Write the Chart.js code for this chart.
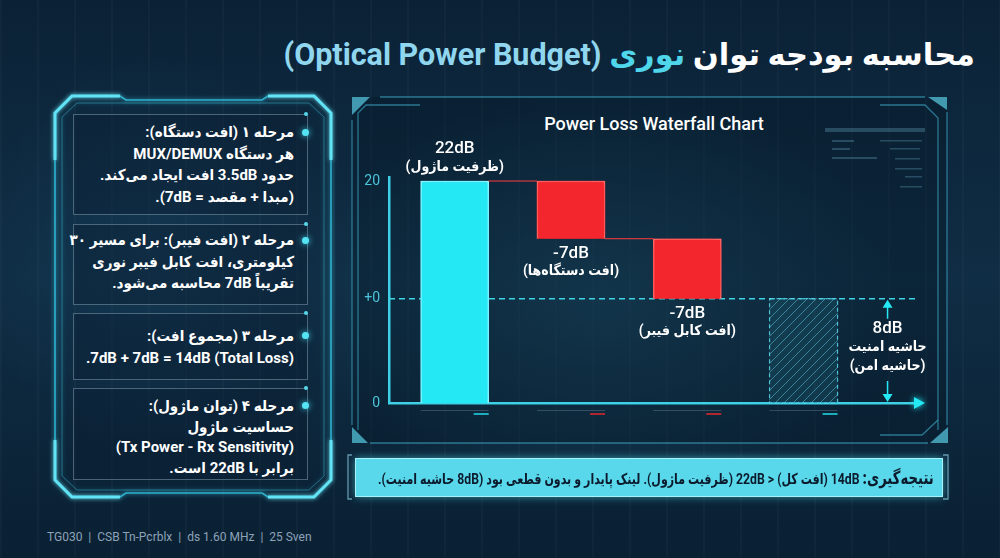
<!DOCTYPE html>
<html lang="fa">
<head>
<meta charset="UTF-8">
<title>Optical Power Budget</title>
<script src="https://cdn.jsdelivr.net/npm/chart.js@4.4.1/dist/chart.umd.min.js"></script>
<style>
  html, body { margin: 0; padding: 0; }
  body {
    width: 1000px; height: 558px; overflow: hidden; position: relative;
    font-family: Roboto, 'DejaVu Sans Condensed', 'DejaVu Sans', sans-serif; color: #fff;
    background:
      radial-gradient(ellipse 430px 300px at 600px 300px, rgba(45,115,145,0.35), transparent 70%),
      radial-gradient(ellipse 260px 280px at 150px 250px, rgba(30,90,125,0.25), transparent 70%),
      repeating-linear-gradient(90deg, rgba(255,255,255,0.025) 0 2px, transparent 2px 37px),
      linear-gradient(180deg, #0b2236 0%, #0f2d44 50%, #0a2033 100%);
  }
  .abs { position: absolute; }
  #title {
    right: 25px; top: 37px; direction: rtl; white-space: nowrap;
    font-size: 30.5px; font-weight: bold; font-family: Roboto, 'DejaVu Sans', sans-serif;
  }
  #title .cy { color: #4fd6ea; }
  #title .en { color: #8fd6ee; }
  .box {
    left: 73px; width: 235px; box-sizing: border-box;
    border: 1px solid rgba(150,180,200,0.45);
    background: rgba(10,30,50,0.45);
    direction: rtl; text-align: right; padding-right: 13px;
    font-size: 15px; font-weight: bold; line-height: 21.5px; white-space: nowrap;
  }
  .dot { width: 7px; height: 7px; border-radius: 50%; background: #55e4f4; box-shadow: 0 0 6px #40d8f0; }
  .pin { width: 4px; height: 4px; border-radius: 50%; background: #55d8ea; }
  #chartTitle { left: 454px; width: 400px; top: 113px; text-align: center; font-size: 18px; font-weight: 500; }
  #chartBox { left: 340px; top: 100px; width: 620px; height: 340px; }
  #result {
    left: 355px; top: 458px; width: 588px; height: 39px; box-sizing: border-box;
    background: #58d8ea; border: 1px solid #a8f2fa; box-shadow: 0 0 8px rgba(80,220,240,0.6);
    direction: rtl; text-align: right; padding-right: 8px; line-height: 37px;
    color: #0b1a2c; font-size: 15px; font-weight: bold; white-space: nowrap;
  }
  #resultText { display: inline-block; transform-origin: right center; }
  #result b { font-size: 18px; }
  #footer { left: 47px; top: 530px; font-size: 12px; color: #8da3b8; white-space: pre; }
</style>
</head>
<body>

<svg class="abs" style="left:0;top:0" width="1000" height="558">
  <defs>
    <filter id="glow" x="-20%" y="-20%" width="140%" height="140%">
      <feGaussianBlur stdDeviation="2" result="b"/>
      <feMerge><feMergeNode in="b"/><feMergeNode in="SourceGraphic"/></feMerge>
    </filter>
  </defs>
  <!-- left panel frame -->
  <g fill="none" filter="url(#glow)">
    <path d="M55,113 L72,96 L120,96 L126,100 L262,100 L268,96 L314,96 L331,113 L331,480 L314,497 L268,497 L262,493 L126,493 L120,497 L72,497 L55,480 Z" stroke="#35c9e6" stroke-width="1.6" opacity="0.8"/>
    <path d="M62,117 L77,103 L309,103 L324,117 L324,476 L309,490 L77,490 L62,476 Z" stroke="rgba(60,190,220,0.45)" stroke-width="1"/>
    <path d="M55,160 L55,113 L72,96 L120,96" stroke="#62e4f6" stroke-width="3"/>
    <path d="M268,96 L314,96 L331,113 L331,160" stroke="#62e4f6" stroke-width="3"/>
    <path d="M55,440 L55,480 L72,497 L120,497" stroke="#62e4f6" stroke-width="3"/>
    <path d="M268,497 L314,497 L331,480 L331,440" stroke="#62e4f6" stroke-width="3"/>
  </g>
  <!-- chart panel frame -->
  <rect x="352" y="97" width="595" height="346" fill="rgba(6,22,36,0.35)"/>
  <g fill="none" stroke="rgba(70,190,220,0.55)" stroke-width="1.3">
    <path d="M380,97 L925,97"/>
    <path d="M420,105 L366,105 L358,113 L358,430"/>
    <path d="M352,120 L352,425"/>
    <path d="M880,105 L925,105 L938,118 L938,430"/>
    <path d="M947,112 L947,425"/>
    <path d="M370,443 L928,443"/>
    <path d="M880,435 L922,435 L938,420"/>
    <path d="M352,455 L348,455 L348,499 L352,499" stroke="rgba(140,200,220,0.7)"/>
    <path d="M943,455 L948,455 L948,499 L943,499" stroke="rgba(140,200,220,0.7)"/>
  </g>
  <g fill="rgba(90,205,230,0.7)">
    <path d="M352,97 L370,97 L352,115 Z"/>
    <path d="M928,97 L947,97 L947,110 Z"/>
    <path d="M948,427 L948,443 L930,443 Z"/>
    <path d="M352,427 L352,443 L368,443 Z"/>
  </g>
  <!-- faint data block top right -->
  <g fill="rgba(120,190,215,0.28)">
    <rect x="825" y="128" width="100" height="4"/>
    <rect x="832" y="140" width="22" height="2"/><rect x="880" y="140" width="42" height="1.5"/>
    <rect x="832" y="148" width="18" height="2"/><rect x="890" y="148" width="30" height="1.5"/>
    <rect x="832" y="157" width="45" height="2"/><rect x="895" y="158" width="25" height="1.5"/>
    <rect x="895" y="168" width="27" height="1.5"/><rect x="905" y="176" width="17" height="1.5"/>
    <rect x="900" y="186" width="22" height="1.5"/>
  </g>
</svg>

<div id="title" class="abs"><span>محاسبه بودجه توان </span><span class="cy">نوری</span> <span class="en">(Optical Power Budget)</span></div>

<div class="abs box" style="top:114px;height:101px;padding-top:7px">
  <div>مرحله ۱ (افت دستگاه):</div>
  <div>هر دستگاه MUX/DEMUX</div>
  <div>حدود 3.5dB افت ایجاد می‌کند.</div>
  <div>(مبدا + مقصد = 7dB).</div>
</div>
<div class="abs box" style="top:224px;height:81px;padding-top:5px">
  <div>مرحله ۲ (افت فیبر): برای مسیر ۳۰</div>
  <div>کیلومتری، افت کابل فیبر نوری</div>
  <div>تقریباً 7dB محاسبه می‌شود.</div>
</div>
<div class="abs box" style="top:313px;height:67px;padding-top:11px;line-height:22px">
  <div>مرحله ۳ (مجموع افت):</div>
  <div>7dB + 7dB = 14dB (Total Loss).</div>
</div>
<div class="abs box" style="top:388px;height:92px;padding-top:7px;line-height:20.7px">
  <div>مرحله ۴ (توان ماژول):</div>
  <div>حساسیت ماژول</div>
  <div>(Tx Power - Rx Sensitivity)</div>
  <div>برابر با 22dB است.</div>
</div>
<div class="abs dot" style="left:302px;top:129px"></div>
<div class="abs dot" style="left:302px;top:237px"></div>
<div class="abs dot" style="left:302px;top:332px"></div>
<div class="abs dot" style="left:302px;top:402px"></div>
<div class="abs pin" style="left:304px;top:112px"></div>
<div class="abs pin" style="left:304px;top:222px"></div>
<div class="abs pin" style="left:304px;top:311px"></div>
<div class="abs pin" style="left:304px;top:386px"></div>

<div id="chartTitle" class="abs">Power Loss Waterfall Chart</div>
<div id="chartBox" class="abs"><canvas id="waterfall" width="620" height="340"></canvas></div>

<div id="result" class="abs"><span id="resultText"><b>نتیجه‌گیری:</b> 14dB (افت کل) &lt; 22dB (ظرفیت ماژول). لینک پایدار و بدون قطعی بود (8dB حاشیه امنیت).</span></div>

<div id="footer" class="abs">TG030  |  CSB Tn-Pcrblx  |  ds 1.60 MHz  |  25 Sven</div>

<script>
  // waterfall steps (values as drawn in the picture, not to scale of the labels)
  const stepNames = ['ظرفیت ماژول', 'افت دستگاه‌ها', 'افت کابل فیبر', 'حاشیه امن'];
  const stepPos = [1, 2, 3, 4];
  const stepLow = [0, 14.8, 9.4, 0];
  const stepHigh = [20, 20, 14.8, 9.4];
  const valueText = ['22dB', '-7dB', '-7dB', '8dB'];
  const noteText = ['(ظرفیت ماژول)', '(افت دستگاه‌ها)', '(افت کابل فیبر)', '(حاشیه امن)'];
  const marginTitle = 'حاشیه امنیت';
  const zeroLevel = 9.4;
  const yTicks = [0, 9.4, 20];
  const yTickText = ['0', '+0', '20'];
  const xMin = 0.435, xMax = 4.967;

  const CYAN = '#24e8f4', RED = '#f2262c';
  const LABEL_FAMILY = 'Roboto, "DejaVu Sans Condensed", "DejaVu Sans"';

  // squeeze the conclusion line into the bar like the original
  const rt = document.getElementById('resultText');
  if (rt.offsetWidth > 556) rt.style.transform = 'scaleX(' + (556 / rt.offsetWidth) + ')';

  function makeHatch() {
    const c = document.createElement('canvas');
    c.width = c.height = 9;
    const g = c.getContext('2d');
    g.fillStyle = 'rgba(30,95,115,0.35)';
    g.fillRect(0, 0, 9, 9);
    g.strokeStyle = 'rgba(100,205,225,0.5)';
    g.lineWidth = 1;
    g.beginPath();
    g.moveTo(0, 9); g.lineTo(9, 0);
    g.moveTo(-4.5, 4.5); g.lineTo(4.5, -4.5);
    g.moveTo(4.5, 13.5); g.lineTo(13.5, 4.5);
    g.stroke();
    return g.createPattern(c, 'repeat');
  }

  const pt = i => ({ x: stepPos[i], y: [stepLow[i], stepHigh[i]] });

  const glowPlugin = {
    id: 'glow',
    beforeDatasetDraw(chart, args) {
      const ds = chart.data.datasets[args.index];
      if (ds.glow) {
        chart.ctx.save();
        chart.ctx.shadowColor = ds.glow;
        chart.ctx.shadowBlur = 14;
      }
    },
    afterDatasetDraw(chart, args) {
      if (chart.data.datasets[args.index].glow) chart.ctx.restore();
    }
  };

  const decorPlugin = {
    id: 'decor',
    afterDatasetsDraw(chart) {
      const ctx = chart.ctx;
      const area = chart.chartArea;
      const bars = [
        chart.getDatasetMeta(0).data[0],
        chart.getDatasetMeta(1).data[0],
        chart.getDatasetMeta(1).data[1],
        chart.getDatasetMeta(2).data[0]
      ];
      ctx.save();
      // connectors
      ctx.strokeStyle = '#ff3d3d';
      ctx.lineWidth = 1;
      ctx.beginPath();
      ctx.moveTo(bars[0].x + bars[0].width / 2, bars[0].y);
      ctx.lineTo(bars[1].x - bars[1].width / 2, bars[1].y);
      ctx.moveTo(bars[1].x + bars[1].width / 2, bars[1].base);
      ctx.lineTo(bars[2].x - bars[2].width / 2, bars[2].y);
      ctx.stroke();

      // dashed border of margin bar
      const m = bars[3];
      ctx.setLineDash([4, 3]);
      ctx.strokeStyle = 'rgba(90,215,235,0.85)';
      ctx.lineWidth = 1.2;
      ctx.strokeRect(m.x - m.width / 2, m.y, m.width, m.base - m.y);
      ctx.setLineDash([]);

      // small plates under bars
      const plateCol = [CYAN, RED, RED, CYAN];
      bars.forEach((b, i) => {
        const l = b.x - b.width / 2, r = b.x + b.width / 2;
        ctx.fillStyle = 'rgba(140,170,190,0.3)';
        ctx.fillRect(l, area.bottom + 7, b.width, 1);
        ctx.fillStyle = plateCol[i];
        ctx.globalAlpha = 0.7;
        ctx.fillRect(r - 15, area.bottom + 10, 15, 2);
        ctx.globalAlpha = 1;
      });

      // labels
      ctx.fillStyle = '#fff';
      ctx.textAlign = 'center';
      ctx.textBaseline = 'middle';
      const vFont = '500 17px ' + LABEL_FAMILY;
      const nFont = 'bold 14px ' + LABEL_FAMILY;
      ctx.font = vFont; ctx.fillText(valueText[0], bars[0].x, bars[0].y - 32);
      ctx.font = nFont; ctx.fillText(noteText[0], bars[0].x, bars[0].y - 14);
      for (let i = 1; i <= 2; i++) {
        ctx.font = vFont; ctx.fillText(valueText[i], bars[i].x, bars[i].base + 15);
        ctx.font = nFont; ctx.fillText(noteText[i], bars[i].x, bars[i].base + 33);
      }
      const ax = m.x + 84, mid = (m.y + m.base) / 2;
      ctx.font = vFont; ctx.fillText(valueText[3], ax, mid - 22);
      ctx.font = nFont; ctx.fillText(marginTitle, ax, mid - 3);
      ctx.fillText(noteText[3], ax, mid + 16);

      // double arrow of the margin
      ctx.strokeStyle = CYAN; ctx.fillStyle = CYAN; ctx.lineWidth = 1.5;
      ctx.beginPath();
      ctx.moveTo(ax, m.y + 4); ctx.lineTo(ax, m.y + 20);
      ctx.moveTo(ax, m.base - 22); ctx.lineTo(ax, m.base - 4);
      ctx.stroke();
      ctx.beginPath();
      ctx.moveTo(ax, m.y + 1); ctx.lineTo(ax - 5, m.y + 9); ctx.lineTo(ax + 5, m.y + 9); ctx.closePath();
      ctx.moveTo(ax, m.base - 1); ctx.lineTo(ax - 5, m.base - 9); ctx.lineTo(ax + 5, m.base - 9); ctx.closePath();
      ctx.fill();

      // arrow head of x axis
      ctx.shadowColor = CYAN; ctx.shadowBlur = 6;
      ctx.beginPath();
      ctx.moveTo(area.right - 2, area.bottom - 6);
      ctx.lineTo(area.right + 9, area.bottom);
      ctx.lineTo(area.right - 2, area.bottom + 6);
      ctx.closePath();
      ctx.fill();
      ctx.restore();
    }
  };

  new Chart(document.getElementById('waterfall'), {
    data: {
      datasets: [
        { type: 'bar', label: stepNames[0], data: [pt(0)], backgroundColor: CYAN, borderColor: '#b8fcff',
          borderWidth: 1.5, barThickness: 68, grouped: false, order: 0, glow: 'rgba(40,230,255,0.9)' },
        { type: 'bar', label: 'loss', data: [pt(1), pt(2)], backgroundColor: RED, borderColor: '#ff7a7a',
          borderWidth: 1.5, barThickness: 68, grouped: false, order: 0, glow: 'rgba(255,40,40,0.9)' },
        { type: 'bar', label: stepNames[3], data: [pt(3)], backgroundColor: makeHatch(), borderWidth: 0,
          barThickness: 68, grouped: false, order: 0 },
        { type: 'line', label: 'zero', data: [{ x: xMin, y: zeroLevel }, { x: xMax, y: zeroLevel }],
          borderColor: '#3fd3e6', borderWidth: 1.5, borderDash: [6, 4], pointRadius: 0, order: 10 }
      ]
    },
    options: {
      responsive: false,
      animation: false,
      layout: { padding: { left: 0, right: 44, top: 77.7, bottom: 37 } },
      plugins: { legend: { display: false }, tooltip: { enabled: false } },
      scales: {
        x: {
          type: 'linear', min: xMin, max: xMax, offset: false,
          grid: { display: false, offset: false },
          ticks: { display: false },
          border: { color: '#3dd0e6', width: 2.5 },
          afterFit: s => { s.height = 0; }
        },
        y: {
          min: 0, max: 20.3,
          grid: { display: false, drawTicks: false },
          border: { color: '#3dd0e6', width: 2.5 },
          afterBuildTicks: s => { s.ticks = yTicks.map(v => ({ value: v })); },
          afterFit: s => { s.width = 49; },
          ticks: {
            padding: 9, color: '#4cc4da', font: { family: 'Roboto', size: 14 },
            callback: (v, i) => yTickText[i]
          }
        }
      }
    },
    plugins: [glowPlugin, decorPlugin]
  });
</script>
</body>
</html>
